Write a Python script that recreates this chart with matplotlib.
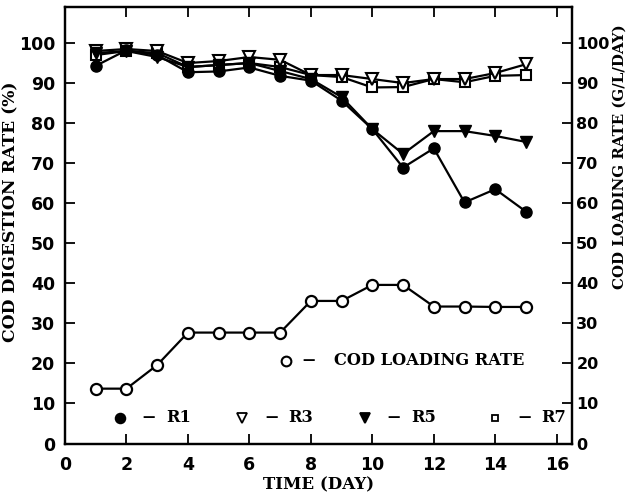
import numpy as np
import matplotlib
matplotlib.use('Agg')
import matplotlib.pyplot as plt

# datos
dias = [1, 2, 3, 4, 5, 6, 7, 8, 9, 10, 11, 12, 13, 14, 15]
r1 = [94.3, 98.2, 97.0, 92.7, 92.9, 93.9, 91.8, 90.6, 85.6, 78.5, 68.9, 73.7, 60.2, 63.5, 57.9]
r3 = [98.0, 98.5, 98.0, 95.0, 95.5, 96.5, 95.8, 92.0, 92.0, 91.0, 90.0, 91.0, 91.0, 92.5, 94.7]
r5 = [97.5, 98.0, 96.5, 94.0, 94.5, 95.0, 93.0, 91.0, 86.5, 78.5, 72.3, 78.0, 78.0, 76.8, 75.3]
r7 = [97.0, 98.0, 97.5, 94.0, 94.5, 95.0, 94.0, 92.0, 91.5, 88.9, 89.0, 91.0, 90.2, 91.8, 92.0]
carga = [13.7, 13.7, 19.6, 27.7, 27.7, 27.7, 27.7, 35.6, 35.6, 39.6, 39.6, 34.2, 34.2, 34.1, 34.1]

xticks = [0, 2, 4, 6, 8, 10, 12, 14, 16]
yticks = [0, 10, 20, 30, 40, 50, 60, 70, 80, 90, 100]

serif = {'family': 'DejaVu Serif', 'weight': 'bold', 'size': 11.7}
guion = {'family': 'DejaVu Serif', 'weight': 'bold', 'size': 9}
plt.rcParams['font.family'] = 'DejaVu Sans'
plt.rcParams['font.weight'] = 'bold'

fig = plt.figure(figsize=(6.28, 4.97), dpi=100)
ax = fig.add_axes([0.1035, 0.1076, 0.8075, 0.8784])
ax2 = ax.twinx()

lw = 1.6
ax.plot(dias, r7, 'k-', lw=lw, marker='s', ms=7, mfc='white', mec='k', mew=1.5)
ax.plot(dias, r3, 'k-', lw=lw, marker='v', ms=8, mfc='white', mec='k', mew=1.5)
ax.plot(dias, r5, 'k-', lw=lw, marker='v', ms=8, mfc='k', mec='k')
ax.plot(dias, r1, 'k-', lw=lw, marker='o', ms=8, mfc='k', mec='k')
ax.plot(dias, carga, 'k-', lw=lw, marker='o', ms=8, mfc='white', mec='k', mew=1.6)

# leyendas dentro de la grafica
ax.plot([7.2], [20.7], 'o', ms=7, mfc='white', mec='k', mew=1.5)
ax.text(7.93, 20.7, '—', va='center', ha='center', fontdict=guion)
ax.text(8.74, 20.7, 'COD LOADING RATE', va='center', ha='left', fontdict=serif)
sym = [(1.78, 'o', 'k', 'R1'), (5.77, 'v', 'white', 'R3'),
       (9.75, 'v', 'k', 'R5'), (14.0, 's', 'white', 'R7')]
for xs, m, fc, lab in sym:
    ax.plot([xs], [6.4], m, ms=7 if m != 's' else 5, mfc=fc, mec='k', mew=1.3)
    ax.text(xs + 0.95, 6.4, '—', va='center', ha='center', fontdict=guion)
    ax.text(xs + 1.5, 6.4, lab, va='center', ha='left', fontdict=serif)

ax.set_xlim(0, 16.5)
ax.set_ylim(0, 109)
ax2.set_ylim(0, 109)
ax.set_xticks(xticks)
ax.set_yticks(yticks)
ax2.set_yticks(yticks)
ax.tick_params(direction='in', length=7, width=1.3, top=True, labelsize=12.5, pad=7)
ax.tick_params(axis='x', pad=9)
ax2.tick_params(direction='in', length=7, width=1.3, labelsize=11.5, pad=3)
for a in (ax, ax2):
    for s in a.spines.values():
        s.set_linewidth(1.6)

ax.set_xlabel('TIME (DAY)', family='DejaVu Serif', weight='bold', size=12, labelpad=2)
ax.set_ylabel('COD DIGESTION RATE (%)', family='DejaVu Serif', weight='bold', size=12.3)
ax2.set_ylabel('COD LOADING RATE (G/L/DAY)', family='DejaVu Serif', weight='bold', size=10.8, rotation=90)
ax.yaxis.set_label_coords(-0.0907, 0.53)
ax2.yaxis.set_label_coords(1.08, 0.656)

fig.savefig('out.png', dpi=100)
